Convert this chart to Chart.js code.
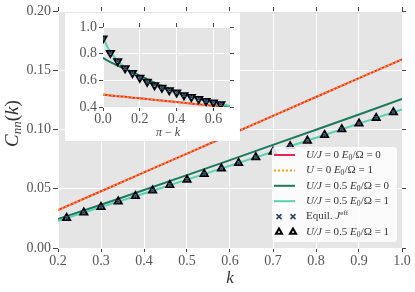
<!DOCTYPE html>
<html><head><meta charset="utf-8">
<script src="https://cdn.jsdelivr.net/npm/chart.js@4"></script>
<style>
html,body{margin:0;padding:0;background:#fff;}
#wrap{position:relative;width:415px;height:292px;overflow:hidden;}
#main{position:absolute;left:0;top:0;}
#inset{position:absolute;left:65px;top:13px;}
</style></head><body>
<div id="wrap"><canvas id="main" width="415" height="292"></canvas><canvas id="inset" width="175" height="128"></canvas></div>
<script>
// ---------- main panel data ----------
const kLine        = [0.2, 0.3, 0.4, 0.5, 0.6, 0.7, 0.8, 0.9, 1.0];
const cU0E0        = [0.032, 0.0479, 0.0638, 0.0797, 0.0956, 0.1115, 0.1274, 0.1433, 0.1592];
const cU0E1        = [0.032, 0.0479, 0.0638, 0.0797, 0.0956, 0.1115, 0.1274, 0.1433, 0.1592];
const cU05E0       = [0.0245, 0.0365, 0.049, 0.0615, 0.0742, 0.087, 0.0998, 0.1127, 0.1257];
const cU05E1       = [0.023, 0.0345, 0.046, 0.0577, 0.0695, 0.0812, 0.093, 0.105, 0.117];
const kMark        = [0.22,0.26,0.30,0.34,0.38,0.42,0.46,0.50,0.54,0.58,0.62,0.66,0.70,0.74,0.78,0.82,0.86,0.90,0.94,0.98];
const cEquil       = [0.0253,0.030,0.0345,0.0392,0.0438,0.0485,0.0531,0.0577,0.0624,0.0671,0.0718,0.0765,0.0812,0.0859,0.0906,0.0954,0.1002,0.105,0.1098,0.1146];
const cTri         = [0.0253,0.030,0.0345,0.0392,0.0438,0.0485,0.0531,0.0577,0.0624,0.0671,0.0718,0.0765,0.0812,0.0859,0.0906,0.0954,0.1002,0.105,0.1098,0.1146];
const xTicksMain   = [0.2,0.3,0.4,0.5,0.6,0.7,0.8,0.9,1.0];
const yTicksMain   = [0.00,0.05,0.10,0.15,0.20];

// ---------- inset data (pi - k) ----------
const qLine        = [0, 0.02, 0.04, 0.08, 0.12, 0.16, 0.2, 0.3, 0.4, 0.5, 0.6, 0.7];
const iU0E0        = [0.493, 0.490, 0.487, 0.481, 0.476, 0.470, 0.465, 0.451, 0.437, 0.423, 0.409, 0.395];
const iU0E1        = [0.493, 0.490, 0.487, 0.481, 0.476, 0.470, 0.465, 0.451, 0.437, 0.423, 0.409, 0.395];
const iU05E0       = [0.768, 0.752, 0.737, 0.71, 0.685, 0.662, 0.635, 0.57, 0.515, 0.47, 0.432, 0.40];
const iU05E1       = [0.93, 0.86, 0.81, 0.745, 0.695, 0.655, 0.623, 0.55, 0.505, 0.466, 0.432, 0.405];
const qMark        = [0,0.04,0.08,0.12,0.16,0.20,0.24,0.28,0.32,0.36,0.40,0.44,0.48,0.52,0.56,0.60,0.64];
const iEquil       = [0.913,0.805,0.743,0.69,0.655,0.62,0.59,0.563,0.545,0.525,0.508,0.488,0.475,0.46,0.445,0.433,0.42];
const iTri         = [0.913,0.805,0.743,0.69,0.655,0.62,0.59,0.563,0.545,0.525,0.508,0.488,0.475,0.46,0.445,0.433,0.42];
const xTicksIn     = [0,0.2,0.4,0.6];
const yTicksIn     = [0.4,0.6,0.8,1.0];

const legendLabels = [
  [['U/J','i'],[' = 0 ','r'],['E','i'],['0','sub'],['/Ω = 0','r']],
  [['U','i'],[' = 0 ','r'],['E','i'],['0','sub'],['/Ω = 1','r']],
  [['U/J','i'],[' = 0.5 ','r'],['E','i'],['0','sub'],['/Ω = 0','r']],
  [['U/J','i'],[' = 0.5 ','r'],['E','i'],['0','sub'],['/Ω = 1','r']],
  [['Equil. ','r'],['J','i'],['eff','sup']],
  [['U/J','i'],[' = 0.5 ','r'],['E','i'],['0','sub'],['/Ω = 1','r']]
];

const RED='#e8254f', ORANGE='#ffa500', DG='#1b7a5d', LG='#55d2b0', XC='#2c4466';
const SERIF='"Liberation Serif","DejaVu Serif",serif';
const TXT='#555';

const pts=(xs,ys)=>xs.map((x,i)=>({x:x,y:ys[i]}));

function drawRich(ctx,x,y,segs,size){
  ctx.textBaseline='middle';ctx.textAlign='left';
  let cx=x;
  for(const [t,s] of segs){
    let f=size, dy=0, it=false;
    if(s==='i') it=true;
    if(s==='sub'){f=size*0.7;dy=size*0.25;}
    if(s==='sup'){f=size*0.65;dy=-size*0.35;}
    ctx.font=(it?'italic ':'')+f+'px '+SERIF;
    ctx.fillText(t,cx,y+dy);
    cx+=ctx.measureText(t).width;
  }
  return cx;
}

const bgPlugin={id:'bg',beforeDraw(c){const a=c.chartArea,ctx=c.ctx;ctx.save();ctx.fillStyle='#e5e5e5';ctx.fillRect(a.left,a.top,a.right-a.left,a.bottom-a.top);ctx.restore();}};

function tri(ctx,x,y,r,down){
  ctx.beginPath();
  if(!down){ctx.moveTo(x,y-r);ctx.lineTo(x+r*0.87,y+r*0.5);ctx.lineTo(x-r*0.87,y+r*0.5);}
  else{ctx.moveTo(x,y+r);ctx.lineTo(x+r*0.87,y-r*0.5);ctx.lineTo(x-r*0.87,y-r*0.5);}
  ctx.closePath();ctx.fillStyle='#fff';ctx.fill();ctx.lineWidth=2;ctx.strokeStyle='#000';ctx.stroke();
}
function xm(ctx,x,y,r){ctx.beginPath();ctx.moveTo(x-r,y-r);ctx.lineTo(x+r,y+r);ctx.moveTo(x+r,y-r);ctx.lineTo(x-r,y+r);ctx.lineWidth=1.5;ctx.strokeStyle=XC;ctx.stroke();}

const mainText={id:'mainText',afterDraw(c){
  const ctx=c.ctx,a=c.chartArea;ctx.save();
  ctx.fillStyle='#333';
  ctx.font='italic 17px '+SERIF;ctx.textAlign='center';ctx.textBaseline='middle';
  ctx.fillText('k',(a.left+a.right)/2,279);
  ctx.translate(13,(a.top+a.bottom)/2-6);ctx.rotate(-Math.PI/2);
  const big=19, small=13;
  ctx.font='italic '+big+'px '+SERIF;
  const w1=ctx.measureText('C').width;ctx.font='italic '+small+'px '+SERIF;const w2=ctx.measureText('nn').width;ctx.font=big+'px '+SERIF;const w3=ctx.measureText('(').width;ctx.font='italic '+big+'px '+SERIF;const w4=ctx.measureText('k').width;ctx.font=big+'px '+SERIF;const w5=ctx.measureText(')').width;
  let x0=-(w1+w2+w3+w4+w5)/2;ctx.textAlign='left';
  ctx.font='italic '+big+'px '+SERIF;ctx.fillText('C',x0,0);x0+=w1;
  ctx.font='italic '+small+'px '+SERIF;ctx.fillText('nn',x0,5);x0+=w2;
  ctx.font=big+'px '+SERIF;ctx.fillText('(',x0,0);x0+=w3;
  ctx.font='italic '+big+'px '+SERIF;ctx.fillText('k',x0,0);x0+=w4;
  ctx.font=big+'px '+SERIF;ctx.fillText(')',x0,0);
  ctx.restore();
  // legend
  ctx.save();
  const L=272,T=147,W=125,H=95;
  ctx.fillStyle='rgba(255,255,255,0.85)';
  ctx.beginPath();ctx.roundRect(L,T,W,H,3);ctx.fill();
  for(let i=0;i<6;i++){
    const y=155+i*15.4;
    ctx.setLineDash([]);
    if(i<4){
      ctx.lineWidth=2;
      ctx.strokeStyle=[RED,ORANGE,DG,LG][i];
      if(i===1) ctx.setLineDash([2,2]);
      ctx.beginPath();ctx.moveTo(274,y);ctx.lineTo(295,y);ctx.stroke();
      ctx.setLineDash([]);
    } else if(i===4){ xm(ctx,279,y,2.5); xm(ctx,293,y,2.5); }
    else { tri(ctx,279,y,3.5,false); tri(ctx,293,y,3.5,false); }
    ctx.fillStyle='#333';
    drawRich(ctx,306,y,legendLabels[i],11);
  }
  ctx.restore();
}};

const tickFont={family:SERIF,size:14};
new Chart(document.getElementById('main'),{
  type:'line',
  data:{datasets:[
    {data:pts(kLine,cU0E0),borderColor:RED,borderWidth:2,pointRadius:0,order:6},
    {data:pts(kLine,cU0E1),borderColor:ORANGE,borderWidth:1.8,borderDash:[2,2],pointRadius:0,order:5},
    {data:pts(kLine,cU05E0),borderColor:DG,borderWidth:2,pointRadius:0,order:4},
    {data:pts(kLine,cU05E1),borderColor:LG,borderWidth:2,pointRadius:0,order:3},
    {data:pts(kMark,cTri),showLine:false,pointStyle:'triangle',pointRadius:4,borderColor:'#000',backgroundColor:'#fff',pointBorderWidth:2,order:2},
    {data:pts(kMark,cEquil),showLine:false,pointStyle:'crossRot',pointRadius:2.5,borderColor:XC,pointBorderWidth:1.3,order:1}
  ]},
  options:{
    responsive:false,animation:false,devicePixelRatio:1,
    layout:{padding:0},
    plugins:{legend:{display:false},tooltip:{enabled:false}},
    scales:{
      x:{type:'linear',position:'bottom',min:0.2,max:1.0,
        afterBuildTicks:s=>{s.ticks=xTicksMain.map(v=>({value:v}));},
        afterFit:s=>{s.height=44;},
        ticks:{font:tickFont,color:TXT,padding:1,maxRotation:0,callback:v=>v.toFixed(1)},
        grid:{color:'#fff',lineWidth:1,tickColor:'#444',tickLength:4},border:{display:false}},
      x2:{type:'linear',position:'top',min:0.2,max:1.0,
        afterBuildTicks:s=>{s.ticks=xTicksMain.map(v=>({value:v}));},
        afterFit:s=>{s.height=11;},
        ticks:{display:false},grid:{drawOnChartArea:false,tickColor:'#444',tickLength:4},border:{display:false}},
      y:{type:'linear',position:'left',min:0,max:0.2,
        afterBuildTicks:s=>{s.ticks=yTicksMain.map(v=>({value:v}));},
        afterFit:s=>{s.width=58;},
        ticks:{font:tickFont,color:TXT,padding:2,callback:v=>v.toFixed(2)},
        grid:{color:'#fff',lineWidth:1,tickColor:'#444',tickLength:5},border:{display:false}},
      y2:{type:'linear',position:'right',min:0,max:0.2,
        afterBuildTicks:s=>{s.ticks=yTicksMain.map(v=>({value:v}));},
        afterFit:s=>{s.width=13;},
        ticks:{display:false},grid:{drawOnChartArea:false,tickColor:'#444',tickLength:4},border:{display:false}}
    }
  },
  plugins:[bgPlugin,mainText]
});

// ---------- inset ----------
const insetBg={id:'insetBg',beforeDraw(c){const ctx=c.ctx;ctx.save();ctx.fillStyle='#fff';ctx.fillRect(0,0,c.width,c.height);ctx.restore();}};
const insetText={id:'insetText',afterDraw(c){const ctx=c.ctx;ctx.save();ctx.fillStyle='#444';
  ctx.textBaseline='middle';ctx.textAlign='left';
  ctx.font='italic 12px '+SERIF;const w1=ctx.measureText('π').width;ctx.font='12px '+SERIF;const w2=ctx.measureText(' − ').width;ctx.font='italic 12px '+SERIF;const w3=ctx.measureText('k').width;
  let x0=103-(w1+w2+w3)/2;
  ctx.font='italic 12px '+SERIF;ctx.fillText('π',x0,120);x0+=w1;
  ctx.font='12px '+SERIF;ctx.fillText(' − ',x0,120);x0+=w2;
  ctx.font='italic 12px '+SERIF;ctx.fillText('k',x0,120);
  ctx.restore();}};
const tf2={family:SERIF,size:14};
new Chart(document.getElementById('inset'),{
  type:'line',
  data:{datasets:[
    {data:pts(qLine,iU0E0),borderColor:RED,borderWidth:2,pointRadius:0,order:6},
    {data:pts(qLine,iU0E1),borderColor:ORANGE,borderWidth:1.8,borderDash:[2,2],pointRadius:0,order:5},
    {data:pts(qLine,iU05E0),borderColor:DG,borderWidth:2,pointRadius:0,order:4},
    {data:pts(qLine,iU05E1),borderColor:LG,borderWidth:2,pointRadius:0,order:3},
    {data:pts(qMark,iTri),showLine:false,pointStyle:'triangle',pointRotation:180,pointRadius:4,borderColor:'#000',backgroundColor:'#fff',pointBorderWidth:2,order:2},
    {data:pts(qMark,iEquil),showLine:false,pointStyle:'crossRot',pointRadius:2.5,borderColor:XC,pointBorderWidth:1.3,order:1}
  ]},
  options:{
    responsive:false,animation:false,devicePixelRatio:1,
    layout:{padding:0},
    plugins:{legend:{display:false},tooltip:{enabled:false}},
    scales:{
      x:{type:'linear',position:'bottom',min:0,max:0.69,
        afterBuildTicks:s=>{s.ticks=xTicksIn.map(v=>({value:v}));},
        afterFit:s=>{s.height=34;},
        ticks:{font:tf2,color:TXT,padding:0,maxRotation:0,autoSkip:false,callback:v=>v.toFixed(1)},
        grid:{color:'#fff',tickColor:'#444',tickLength:4},border:{display:false}},
      x2:{type:'linear',position:'top',min:0,max:0.69,
        afterBuildTicks:s=>{s.ticks=xTicksIn.map(v=>({value:v}));},
        afterFit:s=>{s.height=14;},
        ticks:{display:false},grid:{drawOnChartArea:false,tickColor:'#444',tickLength:4},border:{display:false}},
      y:{type:'linear',position:'left',min:0.4,max:1.0,
        afterBuildTicks:s=>{s.ticks=yTicksIn.map(v=>({value:v}));},
        afterFit:s=>{s.width=38;},
        ticks:{font:tf2,color:TXT,padding:2,autoSkip:false,callback:v=>v.toFixed(1)},
        grid:{color:'#fff',tickColor:'#444',tickLength:4},border:{display:false}},
      y2:{type:'linear',position:'right',min:0.4,max:1.0,
        afterBuildTicks:s=>{s.ticks=yTicksIn.map(v=>({value:v}));},
        afterFit:s=>{s.width=10;},
        ticks:{display:false},grid:{drawOnChartArea:false,tickColor:'#444',tickLength:4},border:{display:false}}
    }
  },
  plugins:[insetBg,bgPlugin,insetText]
});
</script>
</body></html>
